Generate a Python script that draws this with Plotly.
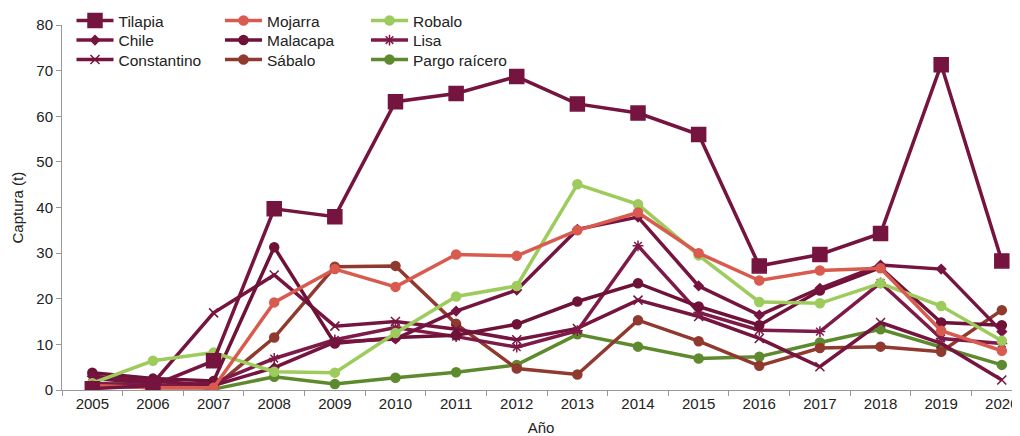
import plotly.graph_objects as go

years = [str(y) for y in range(2005, 2021)]

tilapia = [0.3, 1.0, 6.4, 39.7, 38.0, 63.2, 65.0, 68.7, 62.7, 60.7, 56.0, 27.2, 29.7, 34.3, 71.3, 28.3]
mojarra = [1.0, 0.5, 0.5, 19.2, 26.5, 22.6, 29.7, 29.4, 35.0, 38.9, 30.0, 24.0, 26.2, 26.7, 13.0, 8.6]
robalo = [1.5, 6.4, 8.2, 4.0, 3.8, 12.5, 20.5, 22.8, 45.1, 40.7, 29.5, 19.3, 19.0, 23.4, 18.4, 10.8]
chile = [3.0, 2.0, 1.0, 4.9, 10.5, 11.2, 17.3, 21.9, 35.2, 37.9, 22.8, 16.4, 22.3, 27.4, 26.5, 12.8]
malacapa = [3.8, 2.5, 2.0, 31.3, 10.2, 11.5, 12.0, 14.4, 19.4, 23.4, 18.3, 14.2, 21.8, 26.8, 14.8, 14.2]
lisa = [1.5, 1.0, 1.5, 6.9, 11.0, 13.7, 11.7, 9.4, 13.0, 31.6, 17.0, 13.1, 12.8, 23.5, 11.3, 10.2]
constantino = [2.5, 1.5, 16.9, 25.2, 14.0, 15.0, 13.3, 11.0, 13.5, 19.7, 16.1, 11.3, 5.1, 14.8, 10.2, 2.2]
sabalo = [1.0, 0.5, 0.5, 11.5, 27.0, 27.2, 14.5, 4.7, 3.4, 15.3, 10.7, 5.3, 9.2, 9.5, 8.4, 17.5]
pargo = [0.9, 2.2, 0.2, 2.9, 1.3, 2.7, 3.9, 5.5, 12.2, 9.5, 6.9, 7.3, 10.4, 13.3, 9.4, 5.5]

# name, values, colour, marker, marker size, legend column, legend row
series = [
    ("Tilapia", tilapia, "#761440", "square", 14, 0, 0),
    ("Chile", chile, "#761440", "diamond", 7, 0, 1),
    ("Constantino", constantino, "#761440", "x-thin", 9, 0, 2),
    ("Mojarra", mojarra, "#D95A4E", "circle", 9, 1, 0),
    ("Malacapa", malacapa, "#6E1238", "circle", 9, 1, 1),
    ("Sábalo", sabalo, "#90392E", "circle", 9, 1, 2),
    ("Robalo", robalo, "#9DCB5C", "circle", 9, 2, 0),
    ("Lisa", lisa, "#7E1A48", "asterisk", 9, 2, 1),
    ("Pargo raícero", pargo, "#5E8A2E", "circle", 9, 2, 2),
]
draw_order = ["Pargo raícero", "Sábalo", "Constantino", "Lisa", "Malacapa", "Chile", "Robalo", "Mojarra", "Tilapia"]

# The page body has an 8px margin, so the figure is drawn 8px in from the window corner.
W, H = 1012, 428
font = "Liberation Sans, Arial, sans-serif"
col_x = [63.5, 212, 358]
row_y = [13, 32.5, 52]

fig = go.Figure()
lookup = {s[0]: (i, s) for i, s in enumerate(series)}
legends = {}
for name in draw_order:
    i, (n, vals, col, sym, sz, c, r) = lookup[name]
    key = "legend" if i == 0 else f"legend{i + 1}"
    fig.add_trace(go.Scatter(
        x=years, y=vals, name=n, mode="lines+markers",
        line=dict(color=col, width=3.5),
        marker=dict(symbol=sym, size=sz, color=col, line=dict(color=col, width=1.5)),
        legend=key,
    ))
    legends[key] = dict(font=dict(family=font, size=15.5, color="#222"), bgcolor="rgba(0,0,0,0)",
                        itemwidth=37, xref="container", yref="container",
                        xanchor="left", yanchor="middle",
                        x=col_x[c] / W, y=1 - row_y[r] / H)

fig.update_layout(
    width=W, height=H,
    margin=dict(l=54, r=0, t=17, b=46, autoexpand=False),
    paper_bgcolor="white", plot_bgcolor="white",
    font=dict(family=font, size=15, color="#222"),
    showlegend=True,
    **legends,
    xaxis=dict(type="category", range=[-0.5, 15.3], tickson="boundaries", tickangle=0,
               ticks="outside", ticklen=5, tickcolor="#999", showline=True, linecolor="#999",
               showgrid=False, tickfont=dict(size=15),
               title=dict(text="Año", standoff=12, font=dict(size=15))),
    yaxis=dict(range=[0, 80], dtick=10, ticks="outside", ticklen=5, tickcolor="#999",
               showline=True, linecolor="#999", showgrid=False, zeroline=False,
               tickfont=dict(size=15)),
    annotations=[dict(text="Captura (t)", textangle=-90, xref="paper", yref="paper",
                      x=(9 - 54) / 958, y=0.5, xanchor="center", yanchor="middle",
                      showarrow=False, font=dict(size=15, color="#222"))],
)

fig.write_html("out.html")
